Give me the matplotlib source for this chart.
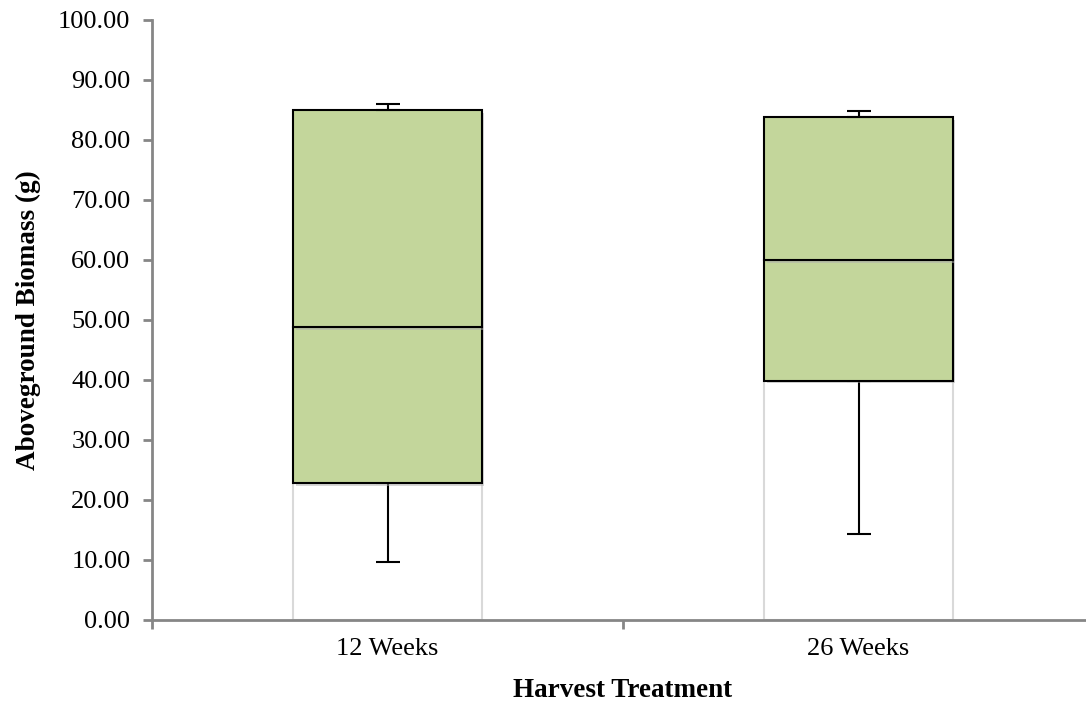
import matplotlib
matplotlib.use('Agg')
import matplotlib.pyplot as plt
import matplotlib.patheffects as pe

plt.rcParams['font.family'] = ['Liberation Serif', 'DejaVu Serif']

treatments = ['12 Weeks', '26 Weeks']
whisker_low = [9.7, 14.3]
q1 = [22.8, 39.9]
median = [48.8, 60.0]
q3 = [85.0, 83.8]
whisker_high = [86.0, 84.8]

box_fill = '#c3d69b'
axis_grey = '#868686'

fig = plt.figure(figsize=(10.86, 7.04), dpi=100)
ax = fig.add_axes([152 / 1086, 84 / 704, 942 / 1086, 600 / 704])

x = list(range(len(treatments)))
width = 0.4
shadow = [pe.SimplePatchShadow(offset=(2, -2), shadow_rgbFace='#b0b0b0', alpha=0.5), pe.Normal()]

# invisible base segment (0 -> Q1), then the two halves of the box
ax.bar(x, q1, width, color='white', edgecolor='#d9d9d9', linewidth=1.5, zorder=1)
lower = [m - a for m, a in zip(median, q1)]
upper = [b - m for b, m in zip(q3, median)]
ax.bar(x, lower, width, bottom=q1, color=box_fill, edgecolor='black',
       linewidth=1.5, zorder=2, path_effects=shadow)
ax.bar(x, upper, width, bottom=median, color=box_fill, edgecolor='black',
       linewidth=1.5, zorder=2, path_effects=shadow)

# whiskers
lo_err = [a - w for a, w in zip(q1, whisker_low)]
hi_err = [w - b for w, b in zip(whisker_high, q3)]
ax.errorbar(x, q1, yerr=[lo_err, [0, 0]], fmt='none', ecolor='black',
            elinewidth=1.5, capsize=8.5, capthick=1.5, zorder=1.5)
ax.errorbar(x, q3, yerr=[[0, 0], hi_err], fmt='none', ecolor='black',
            elinewidth=1.5, capsize=8.5, capthick=1.5, zorder=3)

ax.set_xlim(-0.5, 1.5)
ax.set_ylim(0, 100)
ax.set_yticks(range(0, 101, 10))
ax.set_yticklabels([f'{v:.2f}' for v in range(0, 101, 10)])
ax.set_xticks(x)
ax.set_xticklabels(treatments)
ax.set_xticks([-0.5, 0.5, 1.5], minor=True)
ax.tick_params(axis='x', which='major', length=0, pad=13, labelsize=19)
ax.tick_params(axis='x', which='minor', length=6.5, width=2, color=axis_grey, direction='out')
ax.tick_params(axis='y', length=6.5, width=2, color=axis_grey, direction='out',
               pad=9, labelsize=19)

for side in ['top', 'right']:
    ax.spines[side].set_visible(False)
for side in ['left', 'bottom']:
    ax.spines[side].set_color(axis_grey)
    ax.spines[side].set_linewidth(2)

ax.set_xlabel('Harvest Treatment', fontsize=19.5, fontweight='bold', labelpad=13)
ax.set_ylabel('Aboveground Biomass (g)', fontsize=19.5, fontweight='bold', labelpad=12)

fig.savefig('out.png', dpi=100)
